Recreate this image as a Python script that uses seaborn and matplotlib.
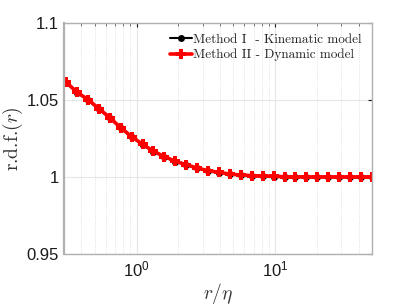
import matplotlib

matplotlib.use("Agg")
import matplotlib.pyplot as plt
import numpy as np
import pandas as pd
import seaborn as sns
from matplotlib.ticker import LogLocator, NullFormatter

# separation r/eta and radial distribution function for both methods
r_eta = [0.310, 0.372, 0.446, 0.534, 0.641, 0.768, 0.921, 1.105, 1.325, 1.589,
         1.905, 2.284, 2.738, 3.284, 3.938, 4.721, 5.660, 6.787, 8.138, 9.759,
         11.70, 14.03, 16.82, 20.17, 24.19, 29.00, 34.77, 41.70, 50.0]
rdf_kinematic = [1.0610, 1.0546, 1.0498, 1.0440, 1.0381, 1.0316, 1.0258, 1.0209,
                 1.0164, 1.0130, 1.0100, 1.0078, 1.0057, 1.0040, 1.0029, 1.0018,
                 1.0012, 1.0008, 1.0005, 1.0003, 1.0002, 1.0001, 1.0000, 1.0000,
                 1.0000, 0.9999, 0.9999, 0.9999, 0.9999]
rdf_dynamic = [1.0615, 1.0550, 1.0502, 1.0444, 1.0385, 1.0320, 1.0262, 1.0212,
               1.0167, 1.0132, 1.0102, 1.0080, 1.0058, 1.0041, 1.0030, 1.0019,
               1.0013, 1.0009, 1.0006, 1.0004, 1.0002, 1.0001, 1.0000, 1.0000,
               1.0000, 1.0000, 1.0000, 1.0000, 1.0000]

labels = ["Method I  - Kinematic model", "Method II - Dynamic model"]
y_ticks = [0.95, 1.0, 1.05, 1.1]
y_tick_labels = ["0.95", "1", "1.05", "1.1"]

sns.set_style("white")
plt.rcParams["font.family"] = ["Liberation Sans", "DejaVu Sans"]
plt.rcParams["mathtext.fontset"] = "cm"

df = pd.DataFrame({"r": r_eta, "kin": rdf_kinematic, "dyn": rdf_dynamic})

fig = plt.figure(figsize=(4.11, 3.08), dpi=100)
ax = fig.add_axes([0.156, 0.175, 0.749, 0.751])

sns.lineplot(data=df, x="r", y="kin", ax=ax, color="black", linewidth=1.5,
             marker="o", markersize=5, markeredgewidth=0, label=labels[0])
sns.lineplot(data=df, x="r", y="dyn", ax=ax, color="#ff0000", linewidth=2.6,
             marker="P", markersize=7.5, markeredgewidth=0, label=labels[1])

ax.set_xscale("log")
ax.set_xlim(0.3, 50)
ax.set_ylim(0.95, 1.1)
ax.set_yticks(y_ticks)
ax.set_yticklabels(y_tick_labels)
ax.xaxis.set_minor_locator(LogLocator(base=10, subs=np.arange(2, 10)))
ax.xaxis.set_minor_formatter(NullFormatter())

ax.grid(True, which="major", color="#e6e6e6", linewidth=0.8, linestyle="-")
ax.grid(True, which="minor", axis="x", color="#d8d8d8", linewidth=0.6, linestyle=":")
ax.set_axisbelow(True)

ax.tick_params(which="both", direction="in", top=True, right=True, color="#555555")
ax.tick_params(which="major", length=3, labelsize=12, colors="#1a1a1a", pad=4)
ax.tick_params(which="minor", length=1.8)
for sp in ax.spines.values():
    sp.set_color("#b0b0b0")
    sp.set_linewidth(1.0)
ax.spines["left"].set_linewidth(1.6)

ax.set_xlabel(r"$r/\eta$", fontsize=14, color="#333333", labelpad=1)
ax.set_ylabel(r"r.d.f.$(r)$", fontsize=14, color="#333333", labelpad=1,
              fontfamily="cmr10")

leg = ax.legend(loc="upper right", frameon=False, prop={"family": "cmr10", "size": 9.5},
                handlelength=1.6, handletextpad=0.1, borderaxespad=0.4, labelspacing=0.25)

fig.savefig("out.png", dpi=100)
